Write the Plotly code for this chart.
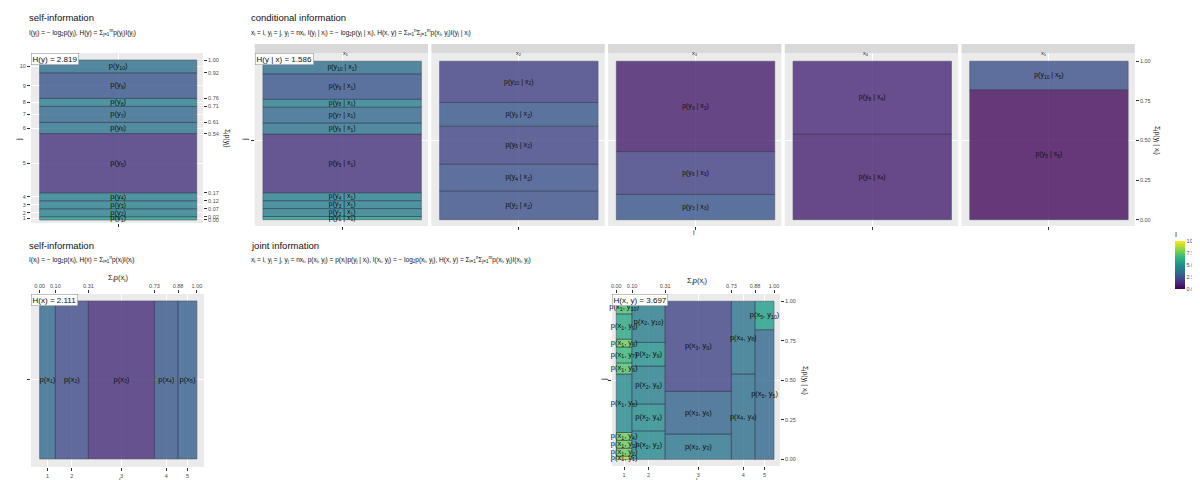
import numpy as np
import plotly.graph_objects as go

W, H = 1200, 480

# ---------------- data ----------------
px_vals = [0.10, 0.21, 0.42, 0.15, 0.12]            # p(x_i), i = 1..5
py_vals = [0.02, 0.05, 0.05, 0.05, 0.37, 0.07, 0.10, 0.05, 0.16, 0.08]  # p(y_j), j = 1..10

cond_x1_y = [1, 2, 3, 4, 5, 6, 7, 8, 9, 10]
cond_x1_p = [0.02, 0.05, 0.05, 0.05, 0.37, 0.07, 0.10, 0.05, 0.16, 0.08]
cond_x2_y = [2, 4, 6, 9, 10]
cond_x2_p = [0.18, 0.17, 0.24, 0.15, 0.26]
cond_x3_y = [3, 6, 9]
cond_x3_p = [0.16, 0.27, 0.57]
cond_x4_y = [4, 8]
cond_x4_p = [0.54, 0.46]
cond_x5_y = [5, 10]
cond_x5_p = [0.82, 0.18]

cond_y = [cond_x1_y, cond_x2_y, cond_x3_y, cond_x4_y, cond_x5_y]
cond_p = [cond_x1_p, cond_x2_p, cond_x3_p, cond_x4_p, cond_x5_p]

H_y_text = "H(y) = 2.819"
H_x_text = "H(x) = 2.111"
H_cond_text = "H(y | x) = 1.586"
H_joint_text = "H(x, y) = 3.697"

FONT = "Liberation Sans, Arial, sans-serif"
TICKC = "#4D4D4D"
TICKF = dict(family=FONT, size=5.5, color=TICKC)


def dx(a, b):
    return [a / W, b / W]


def dy(top, bottom):
    return [1 - bottom / H, 1 - top / H]


def pxx(v):
    return v / W


def pyy(v):
    return 1 - v / H


bar_marker = dict(colorscale="Viridis", cmin=0, cmax=10, opacity=0.8,
                  line=dict(color="rgba(40,45,70,0.75)", width=0.8))

fig = go.Figure()


def tiles(xa, ya, xc, w, base, h, Ivals, labels, size=7.5, showscale=False):
    m = dict(bar_marker)
    m["color"] = Ivals
    if showscale:
        m["showscale"] = True
        m["colorbar"] = dict(x=1167 / W, xanchor="left", y=pyy(221), yanchor="top",
                             len=(281 - 221) / H, lenmode="fraction", thickness=10,
                             outlinewidth=0, xpad=0, ypad=0,
                             tickvals=[0, 2.5, 5, 7.5, 10],
                             ticktext=["0.0", "2.5", "5.0", "7.5", "10.0"],
                             tickfont=dict(family=FONT, size=5.5, color=TICKC), ticks="",
                             title=dict(text="I", side="top",
                                        font=dict(family=FONT, size=7, color="#222")))
    fig.add_trace(go.Bar(x=xc, y=h, base=base, width=w, marker=m, xaxis=xa, yaxis=ya,
                         hoverinfo="skip", textposition="none", showlegend=False))
    centers_y = [b + v / 2 for b, v in zip(base, h)]
    fig.add_trace(go.Scatter(x=xc, y=centers_y, mode="text", text=labels,
                             textfont=dict(family=FONT, size=size, color="#111"),
                             xaxis=xa, yaxis=ya, hoverinfo="skip", showlegend=False,
                             cliponaxis=False))


def dummy(xa, ya, x, y):
    fig.add_trace(go.Scatter(x=[x], y=[y], mode="markers", marker=dict(opacity=0),
                             xaxis=xa, yaxis=ya, hoverinfo="skip", showlegend=False))


axis_common = dict(showline=False, zeroline=False, ticks="outside", ticklen=3,
                   tickwidth=0.7, tickcolor="#333333", tickfont=TICKF,
                   gridcolor="white", gridwidth=1, fixedrange=True)

layout = dict(width=W, height=H, margin=dict(l=0, r=0, t=0, b=0),
              paper_bgcolor="white", plot_bgcolor="#EBEBEB", showlegend=False,
              barmode="overlay", font=dict(family=FONT, color="#222"))
annotations = []
shapes = []

# ---------------- panel A : self-information of y ----------------
cum_y = np.concatenate([[0], np.cumsum(py_vals)])
Iy = [-np.log2(v) for v in py_vals]
labels_y = [f"p(y<sub>{j}</sub>)" for j in range(1, 11)]
tiles("x", "y", [1] * 10, [1] * 10, list(cum_y[:-1]), py_vals, Iy, labels_y, size=7.5)
dummy("x", "y2", 1, 0.5)
layout["xaxis"] = dict(axis_common, domain=dx(23, 195), range=[0.445, 1.54],
                       tickvals=[1], ticktext=[""], anchor="y")
layout["yaxis"] = dict(axis_common, domain=dy(45, 215), range=[-0.019, 1.044],
                       tickvals=list((cum_y[:-1] + cum_y[1:]) / 2),
                       ticktext=[str(j) for j in range(1, 11)], anchor="x")
layout["yaxis2"] = dict(axis_common, overlaying="y", side="right", anchor="x",
                        range=[-0.019, 1.044], tickvals=list(cum_y),
                        ticktext=[f"{v:.2f}" for v in cum_y], showgrid=False)
annotations.append(dict(text=H_y_text, xref="x domain", yref="y domain", x=0, y=1,
                        xanchor="left", yanchor="top", showarrow=False,
                        font=dict(size=8, family=FONT, color="#111"), bgcolor="white",
                        bordercolor="#999", borderwidth=0.6, borderpad=1))

# ---------------- panel conditional ----------------
for k in range(5):
    xa = f"x{k + 2}"
    ya = f"y{k + 3}"
    ys = cond_y[k]
    ps = cond_p[k]
    cb = np.concatenate([[0], np.cumsum(ps)])
    Ic = [-np.log2(v) for v in ps]
    lab = [f"p(y<sub>{j}</sub> | x<sub>{k + 1}</sub>)" for j in ys]
    tiles(xa, ya, [1] * len(ps), [1] * len(ps), list(cb[:-1]), ps, Ic, lab, size=7)
    left = 246.7 + k * 176.7
    right = left + 173.3
    layout[f"xaxis{k + 2}"] = dict(axis_common, domain=dx(left, right), range=[0.448, 1.542],
                                   tickvals=[1], ticktext=[""], anchor=ya)
    layout[f"yaxis{k + 3}"] = dict(axis_common, domain=dy(45, 218), range=[-0.04, 1.052],
                                   tickvals=[0.5], ticktext=[""], anchor=xa,
                                   ticks="outside" if k == 0 else "")
    shapes.append(dict(type="rect", xref="paper", yref="paper", x0=pxx(left), x1=pxx(right),
                       y0=pyy(45), y1=pyy(36), fillcolor="#D9D9D9", line=dict(width=0),
                       layer="below"))
    annotations.append(dict(text=f"x<sub>{k + 1}</sub>", xref="paper", yref="paper",
                            x=pxx((left + right) / 2), y=pyy(40.5), showarrow=False,
                            font=dict(size=5.5, family=FONT, color="#1A1A1A")))
dummy("x6", "y8", 1, 0.5)
layout["yaxis8"] = dict(axis_common, overlaying="y7", side="right", anchor="x6",
                        range=[-0.04, 1.052], tickvals=[0, 0.25, 0.5, 0.75, 1],
                        ticktext=["0.00", "0.25", "0.50", "0.75", "1.00"], showgrid=False)
annotations.append(dict(text=H_cond_text, xref="x2 domain", yref="y3 domain", x=0, y=1,
                        xanchor="left", yanchor="top", showarrow=False,
                        font=dict(size=8, family=FONT, color="#111"), bgcolor="white",
                        bordercolor="#999", borderwidth=0.6, borderpad=1))

# ---------------- panel B : self-information of x ----------------
cum_x = np.concatenate([[0], np.cumsum(px_vals)])
cx = list((cum_x[:-1] + cum_x[1:]) / 2)
Ix = [-np.log2(v) for v in px_vals]
labels_x = [f"p(x<sub>{i}</sub>)" for i in range(1, 6)]
tiles("x7", "y9", cx, px_vals, [0] * 5, [1] * 5, Ix, labels_x, size=7.5)
dummy("x8", "y9", 0.5, 0.5)
layout["xaxis7"] = dict(axis_common, domain=dx(23, 196), range=[-0.055, 1.045],
                        tickvals=cx, ticktext=[str(i) for i in range(1, 6)], anchor="y9")
layout["xaxis8"] = dict(axis_common, overlaying="x7", side="top", anchor="y9",
                        range=[-0.055, 1.045], tickvals=list(cum_x),
                        ticktext=[f"{v:.2f}" for v in cum_x], showgrid=False)
layout["yaxis9"] = dict(axis_common, domain=dy(286, 459), range=[-0.051, 1.044],
                        tickvals=[0.5], ticktext=[""], anchor="x7")
annotations.append(dict(text=H_x_text, xref="x7 domain", yref="y9 domain", x=0, y=1,
                        xanchor="left", yanchor="top", showarrow=False,
                        font=dict(size=8, family=FONT, color="#111"), bgcolor="white",
                        bordercolor="#999", borderwidth=0.6, borderpad=1))

# ---------------- panel C : joint information ----------------
jx, jw, jb, jh, jI, jl = [], [], [], [], [], []
for k in range(5):
    cb = np.concatenate([[0], np.cumsum(cond_p[k])])
    for n, (j, p) in enumerate(zip(cond_y[k], cond_p[k])):
        jx.append(cx[k])
        jw.append(px_vals[k])
        jb.append(cb[n])
        jh.append(p)
        jI.append(-np.log2(px_vals[k] * p))
        jl.append(f"p(x<sub>{k + 1}</sub>, y<sub>{j}</sub>)")
tiles("x9", "y10", jx, jw, jb, jh, jI, jl, size=7.5, showscale=True)
dummy("x10", "y11", 0.5, 0.5)
layout["xaxis9"] = dict(axis_common, domain=dx(604, 772), range=[-0.027, 1.038],
                        tickvals=cx, ticktext=[str(i) for i in range(1, 6)], anchor="y10")
layout["xaxis10"] = dict(axis_common, overlaying="x9", side="top", anchor="y10",
                         range=[-0.027, 1.038], tickvals=list(cum_x),
                         ticktext=[f"{v:.2f}" for v in cum_x], showgrid=False)
layout["yaxis10"] = dict(axis_common, domain=dy(286, 458), range=[-0.042, 1.046],
                         tickvals=[0.5], ticktext=[""], anchor="x9")
layout["yaxis11"] = dict(axis_common, overlaying="y10", side="right", anchor="x10",
                         range=[-0.042, 1.046], tickvals=[0, 0.25, 0.5, 0.75, 1],
                         ticktext=["0.00", "0.25", "0.50", "0.75", "1.00"], showgrid=False)
annotations.append(dict(text=H_joint_text, xref="x9 domain", yref="y10 domain", x=0, y=1,
                        xanchor="left", yanchor="top", showarrow=False,
                        font=dict(size=8, family=FONT, color="#111"), bgcolor="white",
                        bordercolor="#999", borderwidth=0.6, borderpad=1))

# ---------------- titles, formulas, axis titles ----------------
def txt(s, x, y, size, anchor="left", angle=0, color="#111"):
    annotations.append(dict(text=s, xref="paper", yref="paper", x=pxx(x), y=pyy(y),
                            xanchor=anchor, yanchor="middle", showarrow=False,
                            textangle=angle, font=dict(size=size, family=FONT, color=color)))

txt("self-information", 19, 9.5, 9.5)
txt("I(y<sub>j</sub>) = − log<sub>2</sub>p(y<sub>j</sub>), H(y) = Σ<sub>j=1</sub><sup>m</sup>p(y<sub>j</sub>)I(y<sub>j</sub>)",
    19, 24, 6.5)
txt("conditional information", 241, 9.5, 9.5)
txt("x<sub>i</sub> = i, y<sub>j</sub> = j, y<sub>j</sub> = nx<sub>i</sub>, I(y<sub>j</sub> | x<sub>i</sub>) = − log<sub>2</sub>p(y<sub>j</sub> | x<sub>i</sub>), "
    "H(x, y) = Σ<sub>i=1</sub><sup>n</sup>Σ<sub>j=1</sub><sup>m</sup>p(x<sub>i</sub>, y<sub>j</sub>)I(y<sub>j</sub> | x<sub>i</sub>)",
    241, 24, 6.5)
txt("self-information", 19, 237, 9.5)
txt("I(x<sub>i</sub>) = − log<sub>2</sub>p(x<sub>i</sub>), H(x) = Σ<sub>i=1</sub><sup>n</sup>p(x<sub>i</sub>)I(x<sub>i</sub>)",
    19, 251, 6.5)
txt("joint information", 241, 237, 9.5)
txt("x<sub>i</sub> = i, y<sub>j</sub> = j, y<sub>j</sub> = nx<sub>i</sub>, p(x<sub>i</sub>, y<sub>j</sub>) = p(x<sub>i</sub>)p(y<sub>j</sub> | x<sub>i</sub>), "
    "I(x<sub>i</sub>, y<sub>j</sub>) = − log<sub>2</sub>p(x<sub>i</sub>, y<sub>j</sub>), "
    "H(x, y) = Σ<sub>i=1</sub><sup>n</sup>Σ<sub>j=1</sub><sup>m</sup>p(x<sub>i</sub>, y<sub>j</sub>)I(x<sub>i</sub>, y<sub>j</sub>)",
    241, 251, 6.5)

# axis titles
txt("j", 10, 132, 7.5, anchor="center", angle=-90, color="#222")
txt("Σ<sub>j</sub>p(y<sub>j</sub>)", 219, 130, 7, anchor="center", angle=90, color="#222")
txt("j", 236, 132, 7.5, anchor="center", angle=-90, color="#222")
txt("i", 686, 224, 7, anchor="center", color="#222")
txt("Σ<sub>j</sub>p(y<sub>j</sub> | x<sub>i</sub>)", 1149, 132, 7, anchor="center", angle=90, color="#222")
txt("Σ<sub>i</sub>p(x<sub>i</sub>)", 110, 270, 7.5, anchor="center", color="#222")
txt("i", 112, 472, 7, anchor="center", color="#222")
txt("Σ<sub>i</sub>p(x<sub>i</sub>)", 689, 273, 7.5, anchor="center", color="#222")
txt("i", 689, 472, 7, anchor="center", color="#222")
txt("j", 595, 372, 7.5, anchor="center", angle=-90, color="#222")
txt("Σ<sub>j</sub>p(y<sub>j</sub> | x<sub>i</sub>)", 797, 372, 7, anchor="center", angle=90, color="#222")

layout["annotations"] = annotations
layout["shapes"] = shapes
fig.update_layout(**layout)
fig.write_html("out.html")
